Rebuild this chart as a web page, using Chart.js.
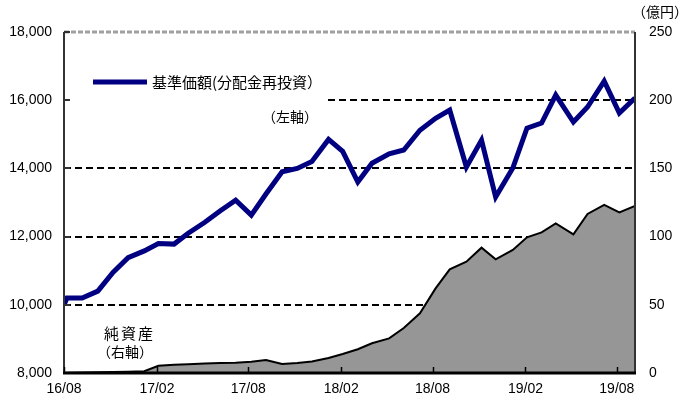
<!DOCTYPE html>
<html>
<head>
<meta charset="utf-8">
<script src="https://cdn.jsdelivr.net/npm/chart.js@4.4.1/dist/chart.umd.min.js"></script>
<style>
	html, body { margin: 0; padding: 0; background: #fff; }
</style>
</head>
<body>
<canvas id="fundChart" width="681" height="400"></canvas>
<script>
// month-end dates, first entry is the launch date
const dates = [
	'2016/08/25', '2016/08/31', '2016/09/30', '2016/10/31', '2016/11/30', '2016/12/30',
	'2017/01/31', '2017/02/28', '2017/03/31', '2017/04/28', '2017/05/31', '2017/06/30',
	'2017/07/31', '2017/08/31', '2017/09/29', '2017/10/31', '2017/11/30', '2017/12/29',
	'2018/01/31', '2018/02/28', '2018/03/30', '2018/04/27', '2018/05/31', '2018/06/29',
	'2018/07/31', '2018/08/31', '2018/09/28', '2018/10/31', '2018/11/30', '2018/12/28',
	'2019/01/31', '2019/02/28', '2019/03/29', '2019/04/26', '2019/05/31', '2019/06/28',
	'2019/07/31', '2019/08/30', '2019/09/30'
];
// 基準価額（分配金再投資）, yen
const navValues = [
	10000, 10200, 10200, 10400, 10950, 11380,
	11580, 11800, 11780, 12100, 12420, 12750,
	13070, 12630, 13250, 13900, 14000, 14200,
	14850, 14500, 13600, 14150, 14430, 14540,
	15120, 15470, 15710, 14040, 14830, 13160,
	14010, 15180, 15330, 16150, 15360, 15800,
	16560, 15620, 16060
];
// 純資産, 億円
const assetValues = [
	0, 0.2, 0.3, 0.5, 0.7, 1.0,
	1.3, 5.3, 6.1, 6.4, 7.0, 7.3,
	7.6, 8.3, 9.5, 6.6, 7.3, 8.5,
	11.0, 13.9, 17.4, 21.8, 25.4, 33.0,
	43.8, 62.0, 76.0, 81.6, 91.9, 83.3,
	90.2, 99.5, 103.1, 109.7, 101.7, 116.6,
	123.2, 117.8, 122.4
];
// x axis ticks every 6 months from launch
const tickDates = ['2016/08/25', '2017/02/25', '2017/08/25', '2018/02/25', '2018/08/25', '2019/02/25', '2019/08/25'];
const tickLabels = ['16/08', '17/02', '17/08', '18/02', '18/08', '19/02', '19/08'];

const FONT = "'Liberation Sans', 'Noto Sans CJK JP', sans-serif";
const JP_FONT = "'Noto Sans CJK JP', sans-serif";

//days since launch, used as x value
function toDay(s) {
	const p = s.split('/').map(Number);
	const p0 = dates[0].split('/').map(Number);
	return (Date.UTC(p[0], p[1] - 1, p[2]) - Date.UTC(p0[0], p0[1] - 1, p0[2])) / 86400000;
}

const navPoints = dates.map((d, i) => ({ x: toDay(d), y: navValues[i] }));
const assetPoints = dates.map((d, i) => ({ x: toDay(d), y: assetValues[i] }));

//grid lines, axis frame, legend and annotations
const framePlugin = {
	id: 'frame',
	beforeDatasetsDraw(chart) {
		const { ctx, chartArea: a, scales } = chart;
		ctx.save();
		ctx.strokeStyle = '#000';
		ctx.lineWidth = 2;
		ctx.setLineDash([7, 4]);
		scales.y.ticks.forEach((t) => {
			if (t.value <= scales.y.min || t.value >= scales.y.max) return;
			const y = Math.round(scales.y.getPixelForValue(t.value));
			ctx.beginPath();
			ctx.moveTo(a.left, y);
			ctx.lineTo(a.right, y);
			ctx.stroke();
		});
		ctx.setLineDash([]);
		// legend box hides the grid line behind it
		ctx.fillStyle = '#fff';
		ctx.fillRect(a.left + 2, 55, 325 - a.left - 2, 75);
		ctx.restore();
	},
	afterDatasetsDraw(chart) {
		const { ctx, chartArea: a, scales } = chart;
		ctx.save();
		// top border
		ctx.strokeStyle = '#a0a0a0';
		ctx.lineWidth = 3;
		ctx.setLineDash([5, 2]);
		ctx.beginPath();
		ctx.moveTo(a.left, a.top);
		ctx.lineTo(a.right, a.top);
		ctx.stroke();
		ctx.setLineDash([]);

		// left and right axes
		ctx.strokeStyle = '#333';
		ctx.lineWidth = 2;
		ctx.beginPath();
		ctx.moveTo(a.left, a.top);
		ctx.lineTo(a.left, a.bottom);
		ctx.moveTo(a.right, a.top);
		ctx.lineTo(a.right, a.bottom);
		ctx.stroke();
		// left tick marks, inside
		scales.y.ticks.forEach((t) => {
			const y = Math.round(scales.y.getPixelForValue(t.value));
			ctx.beginPath();
			ctx.moveTo(a.left, y);
			ctx.lineTo(a.left + 6, y);
			ctx.stroke();
		});

		// bottom axis and its tick marks
		ctx.strokeStyle = '#000';
		ctx.lineWidth = 3;
		ctx.beginPath();
		ctx.moveTo(a.left - 1, a.bottom);
		ctx.lineTo(a.right + 1, a.bottom);
		ctx.stroke();
		ctx.lineWidth = 1.5;
		scales.x.ticks.forEach((t) => {
			const x = Math.round(scales.x.getPixelForValue(t.value)) + 0.5;
			ctx.beginPath();
			ctx.moveTo(x, a.bottom);
			ctx.lineTo(x, a.bottom - 6);
			ctx.stroke();
		});

		// legend
		ctx.strokeStyle = '#000080';
		ctx.lineWidth = 5;
		ctx.beginPath();
		ctx.moveTo(93, 82);
		ctx.lineTo(147, 82);
		ctx.stroke();
		ctx.fillStyle = '#000';
		ctx.textBaseline = 'middle';
		ctx.textAlign = 'left';
		ctx.font = '15px ' + JP_FONT;
		ctx.fillText('基準価額(分配金再投資）', 152, 82);
		ctx.font = '14px ' + JP_FONT;
		ctx.fillText('（左軸）', 262, 117);
		ctx.fillText('（右軸）', 97, 352);
		ctx.fillText('（億円）', 632, 12);
		ctx.font = '15px ' + JP_FONT;
		ctx.letterSpacing = '2px';
		ctx.fillText('純資産', 104, 333);
		ctx.restore();
	}
};

new Chart(document.getElementById('fundChart'), {
	type: 'line',
	data: {
		datasets: [
			{
				label: '基準価額(分配金再投資）',
				data: navPoints,
				yAxisID: 'y',
				borderColor: '#000080',
				borderWidth: 5,
				pointRadius: 0,
				tension: 0,
				fill: false,
				order: 0,
			},
			{
				label: '純資産',
				data: assetPoints,
				yAxisID: 'y2',
				borderColor: '#000',
				borderWidth: 2,
				backgroundColor: '#969696',
				pointRadius: 0,
				tension: 0,
				fill: 'origin',
				order: 1,
			},
		],
	},
	options: {
		responsive: false,
		animation: false,
		events: [],
		layout: {
			padding: { top: 32, left: 0, right: 0, bottom: 0 },
		},
		plugins: {
			legend: { display: false },
			tooltip: { enabled: false },
		},
		scales: {
			x: {
				type: 'linear',
				min: 0,
				max: toDay(dates[dates.length - 1]),
				grid: { display: false, drawTicks: false },
				border: { display: false },
				afterBuildTicks: (scale) => {
					scale.ticks = tickDates.map((d) => ({ value: toDay(d) }));
				},
				afterFit: (scale) => {
					scale.height = 27;
				},
				ticks: {
					autoSkip: false,
					maxRotation: 0,
					padding: 8,
					color: '#000',
					font: { family: FONT, size: 14 },
					callback: (value, index) => tickLabels[index],
				},
			},
			y: {
				position: 'left',
				min: 8000,
				max: 18000,
				grid: { display: false, drawTicks: false },
				border: { display: false },
				afterFit: (scale) => {
					scale.width = 64;
				},
				ticks: {
					stepSize: 2000,
					padding: 12,
					color: '#000',
					font: { family: FONT, size: 14 },
				},
			},
			y2: {
				position: 'right',
				min: 0,
				max: 250,
				grid: { display: false, drawTicks: false },
				border: { display: false },
				afterFit: (scale) => {
					scale.width = 46;
				},
				ticks: {
					stepSize: 50,
					padding: 14,
					color: '#000',
					font: { family: FONT, size: 14 },
				},
			},
		},
	},
	plugins: [framePlugin],
});
</script>
</body>
</html>
